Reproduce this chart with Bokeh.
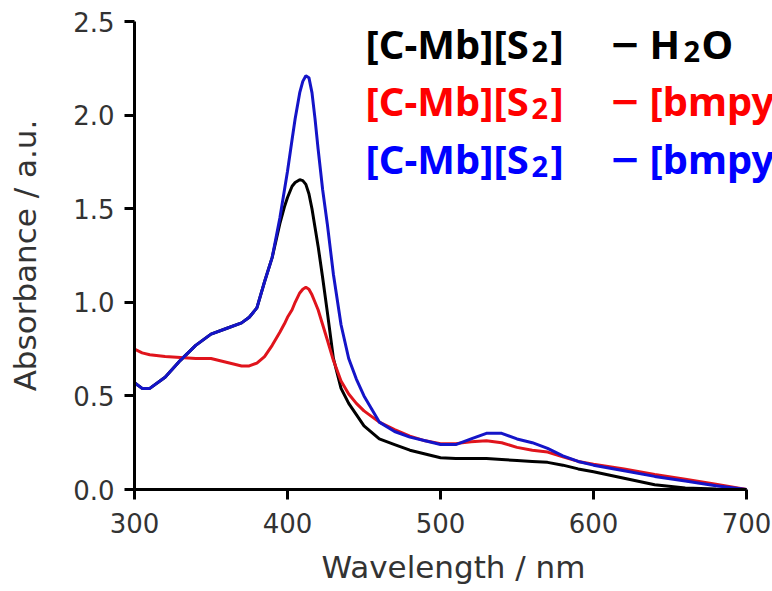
from bokeh.plotting import figure
from bokeh.models import Range1d, FixedTicker, NumeralTickFormatter, Label
from bokeh.embed import file_html
from bokeh.resources import INLINE

# UV-vis absorbance spectra (wavelength in nm, absorbance in a.u.)
wavelength = [300, 305, 310, 320, 330, 340, 350, 360, 370, 375, 380, 385, 390,
              395, 398, 400, 403, 405, 408, 410, 412, 414, 416, 418, 420, 423, 426, 430,
              435, 440, 445, 450, 460, 470, 480, 490, 500, 510, 520, 530, 540,
              550, 560, 570, 580, 590, 600, 620, 640, 660, 680, 700]

abs_h2o = [0.57, 0.54, 0.54, 0.60, 0.69, 0.77, 0.83, 0.86, 0.89, 0.92, 0.97, 1.11, 1.24,
           1.42, 1.51, 1.56, 1.62, 1.64, 1.655, 1.65, 1.63, 1.58, 1.50, 1.40, 1.30, 1.13, 0.95, 0.70,
           0.54, 0.46, 0.40, 0.34, 0.27, 0.24, 0.21, 0.19, 0.17, 0.165, 0.165, 0.165, 0.16,
           0.155, 0.15, 0.145, 0.13, 0.11, 0.095, 0.06, 0.025, 0.008, 0.003, 0.0]

abs_il_red = [0.75, 0.73, 0.72, 0.71, 0.705, 0.70, 0.70, 0.68, 0.66, 0.66, 0.675, 0.71, 0.77,
              0.84, 0.885, 0.92, 0.96, 1.00, 1.05, 1.07, 1.08, 1.07, 1.04, 1.00, 0.96, 0.88, 0.80, 0.69,
              0.58, 0.51, 0.46, 0.42, 0.36, 0.32, 0.285, 0.26, 0.245, 0.245, 0.255, 0.26, 0.25,
              0.225, 0.21, 0.20, 0.175, 0.15, 0.135, 0.11, 0.08, 0.055, 0.028, 0.0]

abs_il_blue = [0.57, 0.54, 0.54, 0.60, 0.69, 0.77, 0.83, 0.86, 0.89, 0.92, 0.97, 1.11, 1.24,
               1.45, 1.60, 1.70, 1.87, 1.98, 2.12, 2.18, 2.21, 2.20, 2.12, 1.98, 1.82, 1.60, 1.42, 1.15,
               0.88, 0.70, 0.59, 0.50, 0.36, 0.31, 0.28, 0.26, 0.24, 0.24, 0.27, 0.30, 0.30,
               0.27, 0.25, 0.22, 0.18, 0.15, 0.13, 0.10, 0.07, 0.045, 0.02, 0.0]

# series names: sample part, then solvent part (subscript digits drawn smaller)
name_head = "[C-Mb][S"
name_tail = ["H", "[bmpy", "[bmpy"]
line_colors = ["#000000", "#e0141c", "#1414c8"]
text_colors = ["#000000", "#ff0000", "#0000ff"]

x_ticks = [300, 400, 500, 600, 700]
y_ticks = [0.0, 0.5, 1.0, 1.5, 2.0, 2.5]

# frame runs to the right edge so the long names can run off the canvas
p = figure(width=772, height=591, output_backend="svg", toolbar_location=None,
           x_range=Range1d(300, 717), y_range=Range1d(0, 2.5),
           min_border_left=134, min_border_right=0,
           min_border_top=21, min_border_bottom=102)

p.outline_line_color = None
p.grid.visible = False
p.background_fill_color = "white"
p.border_fill_color = "white"

for series, col in zip([abs_h2o, abs_il_red, abs_il_blue], line_colors):
    p.line(wavelength, series, line_color=col, line_width=3)

for ax in (p.xaxis[0], p.yaxis[0]):
    ax.axis_line_width = 3
    ax.axis_line_color = "black"
    ax.major_tick_line_width = 3
    ax.major_tick_line_color = "black"
    ax.major_tick_out = 10
    ax.major_tick_in = 0
    ax.minor_tick_line_color = None
    ax.major_label_text_font = "DejaVu Sans"
    ax.major_label_text_font_size = "26px"
    ax.major_label_text_color = "#333333"
    ax.axis_label_text_font = "DejaVu Sans"
    ax.axis_label_text_font_size = "31px"
    ax.axis_label_text_font_style = "normal"
    ax.axis_label_text_color = "#333333"

p.xaxis.bounds = (300, 700)
p.xaxis.ticker = FixedTicker(ticks=x_ticks)
p.yaxis.ticker = FixedTicker(ticks=y_ticks)
p.yaxis.formatter = NumeralTickFormatter(format="0.0")
p.xaxis.axis_label = "Wavelength / nm"
p.yaxis.axis_label = "Absorbance / a.u."
p.xaxis.major_label_standoff = 13
p.yaxis.major_label_standoff = 10
p.xaxis.axis_label_standoff = 13
p.yaxis.axis_label_standoff = 27

# pixel layout helpers for the name block (frame: left 134 px, 1.53 px/nm; bottom 489 px, 187.2 px/unit)
def px_x(px):
    return 300 + (px - 134) / 1.53

def px_y(py):
    return (489 - py) / 187.2

def put(txt, px, py, col, size, font="Noto Sans"):
    p.add_layout(Label(x=px_x(px), y=px_y(py), text=txt, text_color=col,
                       text_font=font, text_font_style="bold",
                       text_font_size=size, text_baseline="alphabetic"))

baselines = [43, 100, 158]
for i, (tail, col, base) in enumerate(zip(name_tail, text_colors, baselines)):
    put(name_head, 365, base, col, "40px")
    put("2", 531, base + 8, col, "29px")
    put("]", 550, base, col, "40px")
    put("\u2212", 609, base, col, "37px", font="DejaVu Sans")
    put(tail, 649, base, col, "40px")
    if i == 0:
        put("2", 683, base + 8, col, "29px")
        put("O", 701, base, col, "40px")

open("out.html", "w").write(file_html(p, INLINE))
